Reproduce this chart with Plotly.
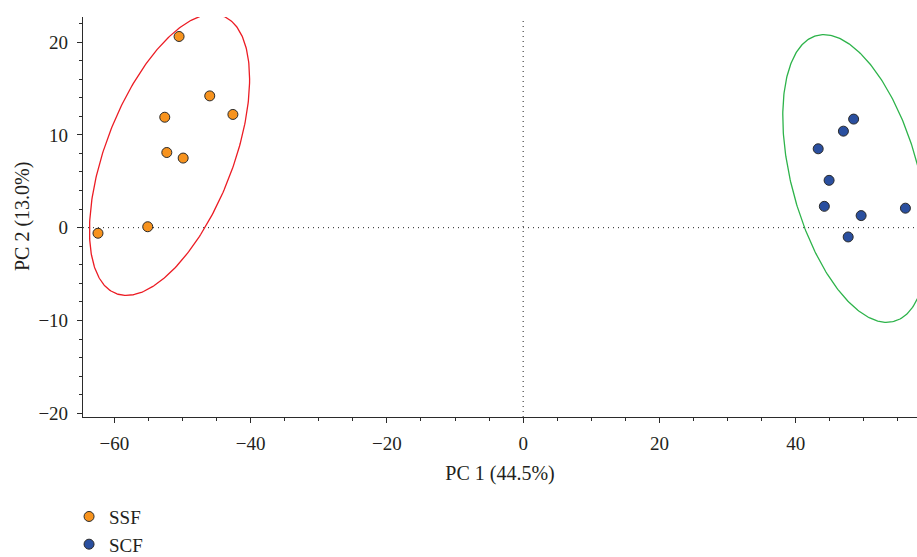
import numpy as np
import plotly.graph_objects as go

# ---- data ----
ssf_x = [-50.5, -46.0, -42.6, -52.6, -52.3, -49.9, -55.1, -62.4]
ssf_y = [20.6, 14.2, 12.2, 11.9, 8.1, 7.5, 0.1, -0.6]
scf_x = [48.5, 47.0, 43.3, 44.9, 44.2, 49.6, 56.1, 47.7]
scf_y = [11.7, 10.4, 8.5, 5.1, 2.3, 1.3, 2.1, -1.0]

# confidence ellipses: centre x, centre y, half x-extent, half y-extent, phase (deg)
ssf_ellipse = [-51.9, 7.85, 11.75, 15.15, 57.4]
scf_ellipse = [48.75, 5.3, 10.65, 15.5, 115.6]

x_ticks = [-60, -40, -20, 0, 20, 40]
y_ticks = [-20, -10, 0, 10, 20]

FONT = "Liberation Serif"
TXT = "#231F20"


def ellipse(p):
    cx, cy, a, b, ph = p
    t = np.linspace(0, 2 * np.pi, 361)
    return cx + a * np.cos(t), cy + b * np.cos(t - np.radians(ph))


fig = go.Figure()

ex, ey = ellipse(ssf_ellipse)
fig.add_trace(go.Scatter(x=ex, y=ey, mode="lines", line=dict(color="#EC1C24", width=1.3),
                         showlegend=False, hoverinfo="skip"))
ex, ey = ellipse(scf_ellipse)
fig.add_trace(go.Scatter(x=ex, y=ey, mode="lines", line=dict(color="#2DB34A", width=1.3),
                         showlegend=False, hoverinfo="skip"))

fig.add_trace(go.Scatter(x=ssf_x, y=ssf_y, mode="markers", name="SSF", legendgroup="a",
                         marker=dict(size=10, color="#F7931E", line=dict(color="#2a2a2a", width=1))))
fig.add_trace(go.Scatter(x=scf_x, y=scf_y, mode="markers", name="SCF", legendgroup="b",
                         marker=dict(size=10, color="#2A4F9F", line=dict(color="#2a2a2a", width=1))))

fig.add_hline(y=0, line=dict(color="#222", width=1, dash="1px,4px"), layer="below")
fig.add_vline(x=0, line=dict(color="#222", width=1, dash="1px,4px"), layer="below")

axis_common = dict(
    showgrid=False, zeroline=False, showline=True, linecolor="#2b2b2b", linewidth=1.2,
    ticks="outside", ticklen=5, tickwidth=1.1, tickcolor="#2b2b2b",
    tickfont=dict(family=FONT, size=19, color=TXT),
    title_font=dict(family=FONT, size=20, color=TXT),
)

fig.update_xaxes(range=[-64.6, 57.8], tickvals=x_ticks,
                 ticktext=[str(v).replace("-", "\u2212") for v in x_ticks],
                 minor=dict(dtick=5, tick0=0, ticks="outside", ticklen=3, tickcolor="#2b2b2b"),
                 ticklabelstandoff=4,
                 title_text="PC 1 (44.5%)", title_standoff=13, **axis_common)
fig.update_yaxes(range=[-20.4, 22.7], tickvals=y_ticks,
                 ticktext=[str(v).replace("-", "\u2212") for v in y_ticks],
                 minor=dict(dtick=2, tick0=0, ticks="outside", ticklen=3, tickcolor="#2b2b2b"),
                 ticklabelstandoff=5, **axis_common)

fig.add_annotation(text="PC 2 (13.0%)", textangle=-90, xref="paper", yref="paper",
                   x=0, y=0.5, xanchor="center", yanchor="middle", xshift=-61,
                   showarrow=False, font=dict(family=FONT, size=20, color=TXT))

fig.update_layout(
    width=917, height=557,
    margin=dict(l=83, r=0, t=17, b=140, autoexpand=False),
    plot_bgcolor="white", paper_bgcolor="white",
    showlegend=True,
    legend=dict(x=0.0753, y=0.1066, xref="container", yref="container",
                xanchor="left", yanchor="top", orientation="v",
                font=dict(family=FONT, size=19, color=TXT), bgcolor="rgba(0,0,0,0)",
                tracegroupgap=0),
)

fig.write_html("out.html", config={"displayModeBar": False},
               post_script="document.body.style.margin='0';document.body.style.overflow='hidden';")
